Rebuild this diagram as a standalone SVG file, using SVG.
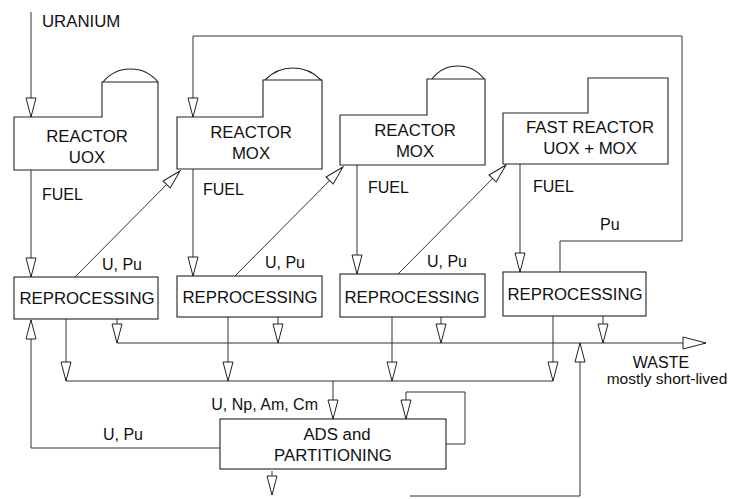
<svg xmlns="http://www.w3.org/2000/svg" width="732" height="499" viewBox="0 0 732 499">
<style>
  .box { fill: none; stroke: #222; stroke-width: 1.1; }
  .ln { fill: none; stroke: #333; stroke-width: 1; }
  .t { font-family: "Liberation Sans", Arial, sans-serif; font-size: 16px; fill: #111; }
  .b { font-size: 16.8px; }
  .c { text-anchor: middle; }
</style>
<defs>
  <marker id="arr" markerUnits="userSpaceOnUse" viewBox="-1 -7 21 14" refX="19" refY="0" markerWidth="21" markerHeight="14" orient="auto">
    <path d="M0,-5 L19,0 L0,5 Z" fill="#fff" stroke="#222" stroke-width="1"/>
  </marker>
  <marker id="big" markerUnits="userSpaceOnUse" viewBox="-1 -8 25 16" refX="23" refY="0" markerWidth="25" markerHeight="16" orient="auto">
    <path d="M0,-6 L23,0 L0,6 Z" fill="#fff" stroke="#222" stroke-width="1"/>
  </marker>
</defs>
<rect width="732" height="499" fill="#fff"/>

<g id="connectors">
  <path class="ln" d="M31,12 V117" marker-end="url(#arr)"/>
  <path class="ln" d="M560,272 V241 H682 V36 H193 V117" marker-end="url(#arr)"/>
  <path class="ln" d="M31,170 V277" marker-end="url(#arr)"/>
  <path class="ln" d="M193,169 V276" marker-end="url(#arr)"/>
  <path class="ln" d="M357,165 V274" marker-end="url(#arr)"/>
  <path class="ln" d="M520,164 V272" marker-end="url(#arr)"/>
  <path class="ln" d="M75,277 L180,171" marker-end="url(#arr)"/>
  <path class="ln" d="M235,276 L343,167" marker-end="url(#arr)"/>
  <path class="ln" d="M398,274 L506,165" marker-end="url(#arr)"/>
  <path class="ln" d="M117,343 H706" marker-end="url(#big)"/>
  <path class="ln" d="M117,319 V343" marker-end="url(#arr)"/>
  <path class="ln" d="M278,317 V343" marker-end="url(#arr)"/>
  <path class="ln" d="M441,317 V343" marker-end="url(#arr)"/>
  <path class="ln" d="M603,316 V343" marker-end="url(#arr)"/>
  <path class="ln" d="M66,381 H553"/>
  <path class="ln" d="M66,319 V381" marker-end="url(#arr)"/>
  <path class="ln" d="M228,317 V381" marker-end="url(#arr)"/>
  <path class="ln" d="M392,317 V381" marker-end="url(#arr)"/>
  <path class="ln" d="M553,316 V381" marker-end="url(#arr)"/>
  <path class="ln" d="M333,381 V419" marker-end="url(#arr)"/>
  <path class="ln" d="M446,444 H465 V392 H406 V419" marker-end="url(#arr)"/>
  <path class="ln" d="M220,448 H31 V320" marker-end="url(#arr)"/>
  <path class="ln" d="M272,471 V495" marker-end="url(#arr)"/>
  <path class="ln" d="M410,496 H580 V343" marker-end="url(#arr)"/>
  <text class="t b" x="42" y="27">URANIUM</text>
  <text class="t" x="42" y="200">FUEL</text>
  <text class="t" x="203" y="195">FUEL</text>
  <text class="t" x="368" y="193">FUEL</text>
  <text class="t" x="533" y="192">FUEL</text>
  <text class="t" x="102" y="270">U, Pu</text>
  <text class="t" x="265" y="268">U, Pu</text>
  <text class="t" x="427" y="267">U, Pu</text>
  <text class="t" x="600" y="230">Pu</text>
  <text class="t c" x="661" y="368">WASTE</text>
  <text class="t c" x="667" y="384" style="font-size:15.5px">mostly short-lived</text>
  <text class="t" x="318" y="410" text-anchor="end">U, Np, Am, Cm</text>
  <text class="t" x="103" y="440">U, Pu</text>
</g>

<g id="reactor-uox">
  <path class="box" d="M14,117 H102 V82 H158 V170 H14 Z"/>
  <path class="box" d="M103,82 A35.6,35.6 0 0 1 158,82"/>
  <text class="t b c" x="87" y="142">REACTOR</text>
  <text class="t b c" x="87" y="163">UOX</text>
</g>
<g id="reactor-mox-1">
  <path class="box" d="M177,117 H263 V80 H322 V169 H177 Z"/>
  <path class="box" d="M265,80 A38.7,38.7 0 0 1 321,80"/>
  <text class="t b c" x="251" y="138">REACTOR</text>
  <text class="t b c" x="251" y="159">MOX</text>
</g>
<g id="reactor-mox-2">
  <path class="box" d="M340,115 H427 V79 H485 V165 H340 Z"/>
  <path class="box" d="M432,79 A32.5,32.5 0 0 1 484,79"/>
  <text class="t b c" x="415" y="136">REACTOR</text>
  <text class="t b c" x="415" y="157">MOX</text>
</g>
<g id="fast-reactor">
  <path class="box" d="M503,113 H588 V78 H668 V164 H503 Z"/>
  <text class="t b c" x="590" y="133">FAST REACTOR</text>
  <text class="t b c" x="590" y="154">UOX + MOX</text>
</g>

<g id="reprocessing-1">
  <rect class="box" x="14" y="277" width="144" height="42"/>
  <text class="t b c" x="87" y="304">REPROCESSING</text>
</g>
<g id="reprocessing-2">
  <rect class="box" x="177" y="276" width="145" height="41"/>
  <text class="t b c" x="250" y="303">REPROCESSING</text>
</g>
<g id="reprocessing-3">
  <rect class="box" x="340" y="274" width="145" height="43"/>
  <text class="t b c" x="412" y="303">REPROCESSING</text>
</g>
<g id="reprocessing-4">
  <rect class="box" x="503" y="272" width="143" height="44"/>
  <text class="t b c" x="575" y="300">REPROCESSING</text>
</g>

<g id="ads">
  <rect class="box" x="220" y="419" width="226" height="50"/>
  <text class="t b c" x="337" y="440">ADS and</text>
  <text class="t b c" x="333" y="461">PARTITIONING</text>
</g>
</svg>
